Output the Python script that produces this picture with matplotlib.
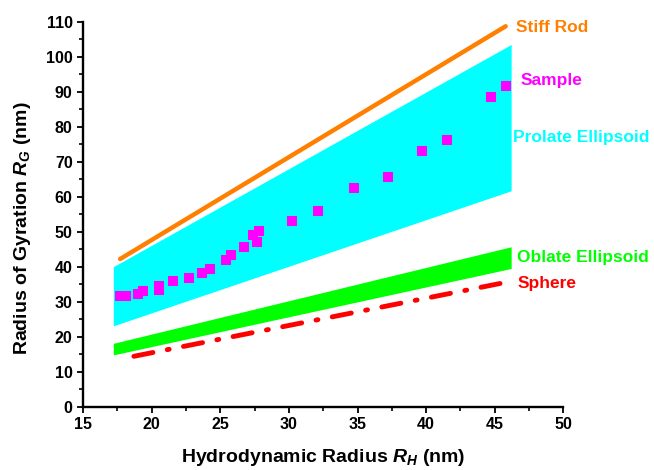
import matplotlib
matplotlib.use("Agg")
import matplotlib.pyplot as plt
from matplotlib.ticker import MultipleLocator

plt.rcParams['font.family'] = ['Liberation Sans', 'DejaVu Sans']
plt.rcParams['font.weight'] = 'bold'
plt.rcParams['mathtext.fontset'] = 'custom'
plt.rcParams['mathtext.it'] = 'Liberation Sans:italic:bold'
plt.rcParams['mathtext.rm'] = 'Liberation Sans:bold'

# model bands (hydrodynamic radius range, lower/upper Rg edges)
rh_band = [17.2, 46.2]
prolate_lower = [23.1, 61.7]
prolate_upper = [40.0, 103.5]
oblate_lower = [14.8, 39.5]
oblate_upper = [18.1, 45.7]

# limiting lines
rod_rh = [17.7, 45.8]
rod_rg = [42.2, 108.7]
sphere_rh = [18.7, 45.9]
sphere_rg = [14.4, 35.6]

# measured sample
sample_rh = [17.69, 18.13, 19.02, 19.39, 20.55, 20.55, 21.57, 22.74, 23.64, 24.25,
             25.39, 25.78, 26.73, 27.36, 27.82, 27.70, 30.25, 32.10, 34.77, 37.24,
             39.72, 41.50, 44.75, 45.85]
sample_rg = [31.6, 31.6, 32.1, 33.1, 33.3, 34.6, 35.9, 36.7, 38.1, 39.3,
             41.9, 43.3, 45.7, 49.1, 50.2, 47.2, 53.0, 56.0, 62.4, 65.6,
             73.0, 76.2, 88.4, 91.7]

# label texts, anchor points (left, baseline) and colours
label_text = ['Stiff Rod', 'Sample', 'Prolate Ellipsoid', 'Oblate Ellipsoid', 'Sphere']
label_x = [46.55, 46.85, 46.36, 46.65, 46.7]
label_y = [107.1, 91.9, 75.7, 41.4, 33.8]
label_col = ['#FF8000', '#FF00FF', '#00FFFF', '#00FF00', '#FF0000']

fig = plt.figure(figsize=(6.54, 4.70), dpi=100)
ax = fig.add_axes([0.1271, 0.1347, 0.7342, 0.8191])

ax.fill_between(rh_band, prolate_lower, prolate_upper, color='#00FFFF', lw=0, zorder=1)
ax.fill_between(rh_band, oblate_lower, oblate_upper, color='#00FF00', lw=0, zorder=1)
ax.plot(rod_rh, rod_rg, color='#FF8000', lw=3.2, solid_capstyle='round', zorder=2)
ax.plot(sphere_rh, sphere_rg, color='#FF0000', lw=3.5, linestyle=(0, (4, 3, 0.4, 3)),
        dash_capstyle='round', zorder=2)
ax.plot(sample_rh, sample_rg, 's', color='#FF00FF', ms=6.5, mec='#FF00FF', mew=0, zorder=3)

for t, x, y, c in zip(label_text, label_x, label_y, label_col):
    ax.text(x, y, t, color=c, fontsize=12.5, fontweight='bold', va='baseline', ha='left')

ax.set_xlim(15, 50)
ax.set_ylim(0, 110)
ax.xaxis.set_major_locator(MultipleLocator(5))
ax.xaxis.set_minor_locator(MultipleLocator(2.5))
ax.yaxis.set_major_locator(MultipleLocator(10))
ax.yaxis.set_minor_locator(MultipleLocator(5))

for s in ['top', 'right']:
    ax.spines[s].set_visible(False)
for s in ['left', 'bottom']:
    ax.spines[s].set_linewidth(1.7)
ax.tick_params(which='major', direction='out', length=4.5, width=1.3, labelsize=11.5, pad=3)
ax.tick_params(which='minor', direction='out', length=2.6, width=1.2)
for lab in ax.get_xticklabels() + ax.get_yticklabels():
    lab.set_fontweight('bold')

ax.set_xlabel(r'Hydrodynamic Radius $R_H$ (nm)', fontsize=14, fontweight='bold')
ax.set_ylabel(r'Radius of Gyration $R_G$ (nm)', fontsize=14, fontweight='bold')
ax.xaxis.set_label_coords(0.5, -0.131)
ax.yaxis.set_label_coords(-0.127, 0.463)
ax.xaxis.label.set_va('center')
ax.yaxis.label.set_va('center')

fig.savefig('out.png', dpi=100)
